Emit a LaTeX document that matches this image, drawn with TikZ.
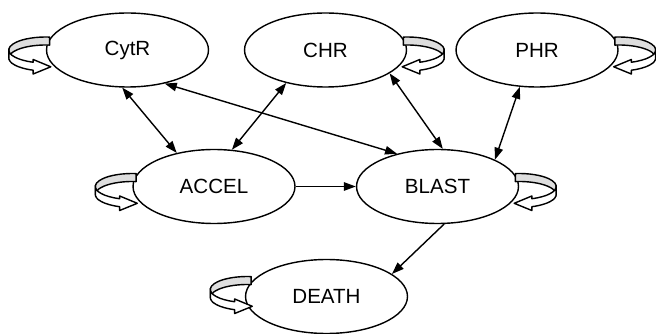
\documentclass[tikz,border=0pt]{standalone}
\usepackage{fontspec}
\setmainfont{Liberation Sans}
\usetikzlibrary{shapes,arrows.meta,calc}
\definecolor{loopgray}{RGB}{222,222,222}

\begin{document}
\begin{tikzpicture}[x=0.02cm, y=0.02cm, line width=0.8pt,
    >={Triangle[length=2.4mm,width=1.7mm]},
    phase/.style={draw, ellipse, minimum width=3.24cm, minimum height=1.48cm, inner sep=0pt, font=\fontsize{11.7}{14}\selectfont},
    selfloop/.pic={
        % inner side of the band
        \filldraw[fill=loopgray, line join=round]
            ($(84:37 and 13)+(0,4)$) arc[start angle=84, end angle=186, x radius=37, y radius=13]
            -- ++(0,-8) arc[start angle=186, end angle=84, x radius=37, y radius=13] -- cycle;
        % outer side with the head
        \filldraw[fill=white, line join=round]
            ($(176:37 and 13)+(0,4)$) arc[start angle=176, end angle=250, x radius=37, y radius=13]
            -- (-12.65,-5.5) -- (5,-12.8) -- (-12.65,-20) -- (-12.65,-16.2)
            arc[start angle=250, end angle=176, x radius=37, y radius=13] -- cycle;
    }]
    \useasboundingbox (0,0) rectangle (656,-334);

    % Disease states
    \node[phase] (CytR) at (127.5,-50) {CytR};
    \node[phase] (CHR) at (325.5,-50) {CHR};
    \node[phase] (PHR) at (537,-50) {PHR};
    \node[phase] (ACCEL) at (214,-186.5) {ACCEL};
    \node[phase] (BLAST) at (437.5,-186.5) {BLAST};
    \node[phase] (DEATH) at (326.5,-296.5) {DEATH};

    % Staying in a state
    \pic at ($(CytR.west)+(0,-4)$) {selfloop};
    \pic[xscale=-1] at ($(CHR.east)+(0,-4)$) {selfloop};
    \pic[xscale=-1] at ($(PHR.east)+(0,-4)$) {selfloop};
    \pic at ($(ACCEL.west)+(0,-4)$) {selfloop};
    \pic[xscale=-1] at ($(BLAST.east)+(0,-4)$) {selfloop};
    \pic at ($(DEATH.west)+(2.5,3)$) {selfloop};

    % Transitions
    \draw[<->] (CytR.262) -- (ACCEL.138);
    \draw[<->] (CHR.220) -- (ACCEL.64);
    \draw[<->] (CytR.318) -- (BLAST.141);
    \draw[<->] (CHR.340) -- (BLAST.82);
    \draw[<->] (PHR.245) -- (BLAST.25);
    \draw[->] (ACCEL) -- (BLAST);
    \draw[->] (BLAST.280) -- (DEATH.19);
\end{tikzpicture}
\end{document}
